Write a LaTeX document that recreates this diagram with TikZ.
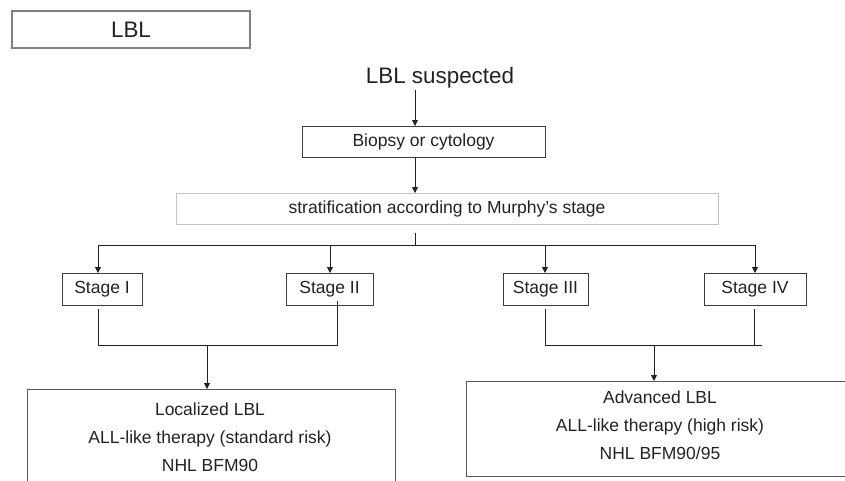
\documentclass[tikz,border=0pt]{standalone}
\usepackage{fontspec}
\setmainfont{Liberation Sans}
\usetikzlibrary{arrows.meta}
\definecolor{txt}{HTML}{222222}
\definecolor{bd}{HTML}{3C3C3C}
\definecolor{bdgray}{HTML}{808080}
\definecolor{bdlight}{HTML}{C4C4C4}
\definecolor{ln}{HTML}{222222}
\begin{document}
\begin{tikzpicture}[x=1pt,y=-1pt,
  every node/.style={inner sep=0pt, outer sep=0pt, text=txt},
  txtn/.style={font=\fontsize{17.5}{21}\selectfont, anchor=base},
  bigtxt/.style={font=\fontsize{22.4}{26}\selectfont},
  box/.style={draw=bd, line width=0.9pt, rectangle, font=\fontsize{17.5}{21}\selectfont},
  conn/.style={draw=ln, line width=0.9pt},
  arr/.style={conn, -{Triangle[length=6pt,width=6pt]}}]
\useasboundingbox (0,0) rectangle (845,480);
\clip (0,0) rectangle (845,480);

% title
\node[box, draw=bdgray, line width=1.1pt, minimum width=238, minimum height=37, bigtxt] (title) at (131,29.5) {LBL};

% top chain
\node[bigtxt, anchor=base] (susp) at (440,83) {LBL suspected};
\node[box, minimum width=243, minimum height=31] (bio) at (423.5,141.5) {Biopsy or cytology};
\node[box, draw=bdlight, minimum width=542, minimum height=31] (strat) at (447,208.5) {stratification according to Murphy’s stage};

\coordinate (cx) at (415,0);
\draw[arr] (susp.south -| cx) ++(0,2) -- (bio.north -| cx);
\draw[arr] (bio.south -| cx) -- (strat.north -| cx);

% stage boxes
\node[box, minimum width=80, minimum height=32] (s1) at (102,289) {Stage I};
\node[box, minimum width=87, minimum height=32] (s2) at (329.5,289) {Stage II};
\node[box, minimum width=85, minimum height=32] (s3) at (545.5,289) {Stage III};
\node[box, minimum width=102, minimum height=32] (s4) at (755,289) {Stage IV};

% distribution line
\coordinate (hl) at (98,245);
\coordinate (hr) at (755,245);
\coordinate (hm) at (415,245);
\draw[conn] (strat.south -| cx) ++(0,9) -- (hm);
\draw[conn] (hl) -- (hr);
\coordinate (x1) at (98,0);
\coordinate (x2) at (330,0);
\coordinate (x3) at (545,0);
\coordinate (x4) at (755,0);
\draw[arr] (hl) -- (s1.north -| x1);
\draw[arr] (hm -| x2) -- (s2.north -| x2);
\draw[arr] (hm -| x3) -- (s3.north -| x3);
\draw[arr] (hr) -- (s4.north -| x4);

% result boxes
\node[box, draw=bd!85, minimum width=368, minimum height=110] (loc) at (211,444) {};
\node[box, draw=bd!85, minimum width=390, minimum height=95] (adv) at (661,428.5) {};

\node[txtn] (l1) at (210,415) {Localized LBL};
\node[txtn] (l2) at (210,443) {ALL-like therapy (standard risk)};
\node[txtn] (l3) at (210,471) {NHL BFM90};

\node[txtn] (a1) at (660,403) {Advanced LBL};
\node[txtn] (a2) at (660,431) {ALL-like therapy (high risk)};
\node[txtn] (a3) at (660,459) {NHL BFM90/95};

% merging connectors, left
\coordinate (ml) at (98,345);
\coordinate (mr) at (337,345);
\coordinate (mm) at (207,345);
\draw[conn] (s1.south -| ml) ++(0,4) -- (ml) -- (mr) -- ([yshift=4]s2.south -| mr);
\draw[arr] (mm) -- (loc.north -| mm);

% merging connectors, right
\coordinate (nl) at (545,345);
\coordinate (nr) at (754,345);
\coordinate (ne) at (762,345);
\coordinate (nm) at (654,345);
\draw[conn] (s3.south -| nl) ++(0,4) -- (nl) -- (ne);
\draw[conn] (s4.south -| nr) ++(0,4) -- (nr);
\draw[arr] (nm) -- (adv.north -| nm);
\end{tikzpicture}
\end{document}
